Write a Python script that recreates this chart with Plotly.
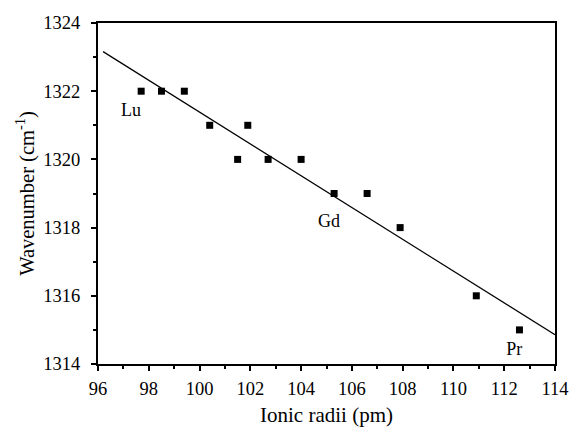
import numpy as np
import plotly.graph_objects as go

ionic_radii = [97.7, 98.5, 99.4, 100.4, 101.5, 101.9, 102.7, 104.0, 105.3, 106.6, 107.9, 110.9, 112.6]
wavenumber = [1322, 1322, 1322, 1321, 1320, 1321, 1320, 1320, 1319, 1319, 1318, 1316, 1315]
fit_range = [96.2, 114.0]
labels = ["Lu", "Gd", "Pr"]
label_x = [97.3, 105.1, 112.4]
label_y = [1321.4, 1318.15, 1314.4]

slope, intercept = np.polyfit(ionic_radii, wavenumber, 1)
fit_x = np.array(fit_range)
fit_y = slope * fit_x + intercept

FONT = "Liberation Serif"

fig = go.Figure()
fig.add_trace(go.Scatter(x=fit_x, y=fit_y, mode="lines",
                         line=dict(color="black", width=1.2), showlegend=False, cliponaxis=False))
fig.add_trace(go.Scatter(x=ionic_radii, y=wavenumber, mode="markers",
                         marker=dict(symbol="square", size=7, color="black"), showlegend=False))
fig.add_trace(go.Scatter(x=label_x, y=label_y, mode="text", text=labels,
                         textfont=dict(family=FONT, size=18, color="black"), showlegend=False))

axis_common = dict(showgrid=False, zeroline=False, showline=True, linecolor="black", linewidth=2,
                   mirror=True, ticks="outside", ticklen=5, tickwidth=1.5, tickcolor="black",
                   automargin=False,
                   tickfont=dict(family=FONT, size=18.5, color="black"))
fig.update_xaxes(range=[96, 114], dtick=2, tick0=96, ticklabelstandoff=2,
                 minor=dict(dtick=1, ticks="outside", ticklen=3, tickwidth=1.5, tickcolor="black"),
                 title=dict(text="Ionic radii (pm)", font=dict(family=FONT, size=21, color="black"), standoff=12),
                 **axis_common)
fig.update_yaxes(range=[1314, 1324], dtick=2, tick0=1314, ticklabelstandoff=7,
                 minor=dict(dtick=1, ticks="outside", ticklen=3, tickwidth=1.5, tickcolor="black"),
                 title=dict(text="Wavenumber (cm<sup>-1</sup>)", font=dict(family=FONT, size=20.5, color="black"), standoff=3),
                 **axis_common)
fig.update_layout(width=573, height=427, margin=dict(l=98, r=18, t=23, b=63),
                  plot_bgcolor="white", paper_bgcolor="white")
fig.write_html("out.html", config={"displayModeBar": False},
               post_script="document.body.style.margin='0';document.body.style.overflow='hidden';")
